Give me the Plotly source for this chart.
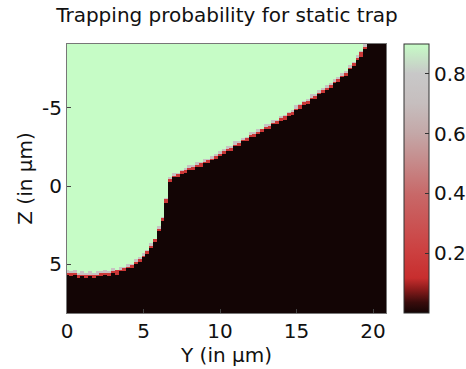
import numpy as np
import plotly.graph_objects as go

# Column positions (Y, in um) of the probability map
Y_COLS = np.round(np.arange(0.0, 20.80, 0.25), 2)

# Z position (in um) of the trapped / untrapped boundary for each Y column
BOUNDARY_Z = [
    5.57, 5.58, 5.60, 5.61, 5.62, 5.63, 5.63, 5.63,
    5.62, 5.59, 5.56, 5.52, 5.47, 5.40, 5.33, 5.24,
    5.13, 5.01, 4.88, 4.69, 4.45, 4.18, 3.85, 3.40,
    2.80, 2.05, 0.90, -0.45, -0.65, -0.78, -0.90, -1.02,
    -1.14, -1.24, -1.33, -1.43, -1.53, -1.64, -1.76, -1.92,
    -2.08, -2.22, -2.36, -2.49, -2.62, -2.76, -2.90, -3.05,
    -3.20, -3.33, -3.46, -3.60, -3.74, -3.88, -4.02, -4.16,
    -4.30, -4.45, -4.60, -4.77, -4.95, -5.12, -5.30, -5.46,
    -5.62, -5.78, -5.95, -6.11, -6.28, -6.46, -6.64, -6.84,
    -7.05, -7.29, -7.55, -7.84, -8.15, -8.50, -8.88, -9.25,
    -9.65, -10.0, -10.4, -10.8,
]

# Row positions (Z, in um)
Z_ROWS = np.round(np.arange(-9.1, 8.15, 0.1), 2)

TRAPPED = 0.9
EDGE_HIGH = 0.74
EDGE_LOW = 0.16
UNTRAPPED = 0.0

X_TICKS = [0, 5, 10, 15, 20]
Z_TICKS = [-5, 0, 5]
Z_TICK_TEXT = ['-5', '0', '5']
CB_TICKS = [0.2, 0.4, 0.6, 0.8]
CB_TICK_TEXT = ['0.2', '0.4', '0.6', '0.8']

grid = []
for z in Z_ROWS:
    row = []
    for j, b in enumerate(BOUNDARY_Z):
        d = z - b
        if d < -0.2:
            row.append(TRAPPED)
        elif d < -0.1:
            row.append(EDGE_HIGH if j % 2 == 0 else TRAPPED)
        elif d < 0:
            row.append(EDGE_HIGH)
        elif d < 0.1:
            row.append(EDGE_LOW)
        elif d < 0.2:
            row.append(EDGE_LOW if j % 2 == 1 else UNTRAPPED)
        else:
            row.append(UNTRAPPED)
    grid.append(row)

colorscale = [
    [0.00, '#130505'],
    [0.04, '#3a0c0c'],
    [0.09, '#8e1c1c'],
    [0.13, '#c82e2e'],
    [0.24, '#cc4242'],
    [0.44, '#c86868'],
    [0.56, '#c68a8a'],
    [0.67, '#c4a8a8'],
    [0.78, '#c6bebe'],
    [0.89, '#c8c8c8'],
    [1.00, '#c6fcc6'],
]

FONT = 'DejaVu Sans, Arial, sans-serif'

fig = go.Figure(go.Heatmap(
    x=Y_COLS, y=Z_ROWS, z=grid,
    zmin=0, zmax=0.9, zsmooth=False,
    colorscale=colorscale,
    hoverinfo='skip',
    colorbar=dict(
        x=(404 - 67) / 319, xanchor='left',
        y=0.5, yanchor='middle',
        lenmode='pixels', len=269, thickness=25,
        outlinewidth=1, outlinecolor='#333',
        tickvals=CB_TICKS, ticktext=CB_TICK_TEXT,
        ticks='inside', ticklen=4, tickcolor='#333',
        tickfont=dict(family=FONT, size=20, color='#111'),
        xpad=0, ypad=0,
    ),
))

fig.update_layout(
    width=466, height=369,
    margin=dict(l=67, r=80, t=44, b=56, autoexpand=False),
    paper_bgcolor='white', plot_bgcolor='white',
    font=dict(family=FONT, color='#111'),
    title=dict(text='Trapping probability for static trap',
               x=227 / 466, xanchor='center', y=1 - 15 / 369, yanchor='middle',
               font=dict(family=FONT, size=20, color='#111')),
)
fig.update_xaxes(
    range=[0, 20.85], tickvals=X_TICKS, ticks='inside', ticklen=4,
    showline=True, mirror=True, linecolor='#777', linewidth=1,
    tickfont=dict(family=FONT, size=20), showgrid=False, zeroline=False,
    automargin=False,
    title=dict(text='Y (in μm)', font=dict(family=FONT, size=20), standoff=2),
)
fig.update_yaxes(
    range=[8.1, -9.07], tickvals=Z_TICKS, ticktext=Z_TICK_TEXT,
    ticks='inside', ticklen=4,
    showline=True, mirror=True, linecolor='#777', linewidth=1,
    tickfont=dict(family=FONT, size=20), showgrid=False, zeroline=False,
    automargin=False,
    title=dict(text='Z (in μm)', font=dict(family=FONT, size=20), standoff=4),
)

fig.write_html('out.html',
               config={'displayModeBar': False, 'staticPlot': True},
               post_script="document.body.style.margin='0';document.body.style.padding='0';")
